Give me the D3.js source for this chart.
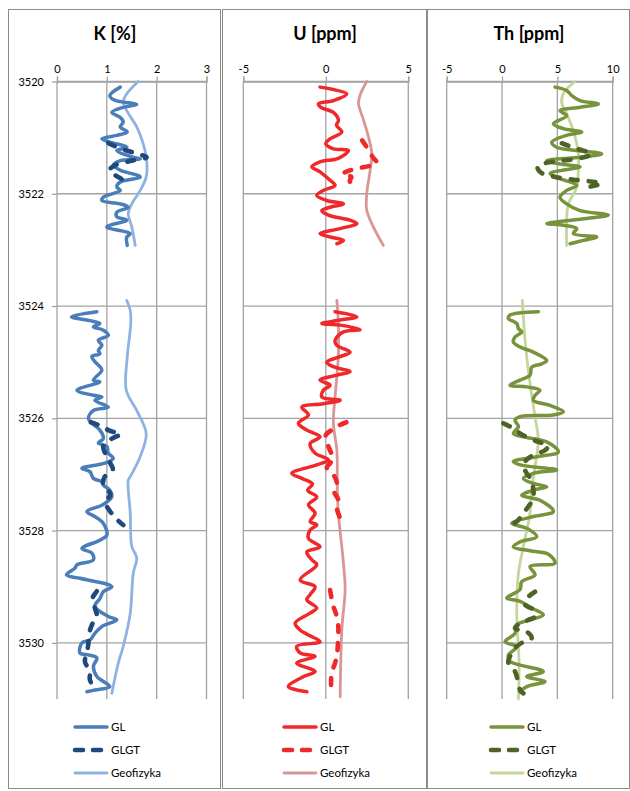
<!DOCTYPE html>
<html>
<head>
<meta charset="utf-8">
<script src="https://cdn.jsdelivr.net/npm/d3@7"></script>
<style>
  html, body { margin: 0; padding: 0; background: #fff; }
  svg { display: block; font-family: Lato, "Open Sans", "Liberation Sans", sans-serif; }
</style>
</head>
<body>
<svg id="chart" width="630" height="791"></svg>
<script>
// Depth axis (m) shared by all three logs
const depthDomain = [3520, 3531];
const depthTicks = [3520, 3522, 3524, 3526, 3528, 3530];

// Top value axes
const kTicks = [0, 1, 2, 3];
const uTicks = [-5, 0, 5];
const thTicks = [-5, 0, 5, 10];

const seriesNames = ["GL", "GLGT", "Geofizyka"];

// Each series: list of continuous segments of [depth, value]

// ---- K [%] ----
const kGL = [
  [[3520.10,1.27],[3520.25,1.06],[3520.33,1.15],[3520.41,1.60],[3520.46,1.33],[3520.55,1.10],[3520.64,1.27],
   [3520.72,1.33],[3520.81,1.27],[3520.90,1.41],[3520.96,1.20],[3521.02,0.90],[3521.08,1.06],[3521.17,1.40],
   [3521.23,1.20],[3521.35,1.53],[3521.38,1.67],[3521.41,1.27],[3521.49,1.13],[3521.58,1.27],[3521.70,1.67],
   [3521.79,1.27],[3521.88,1.20],[3521.94,1.27],[3522.06,0.93],[3522.12,0.90],[3522.18,1.27],[3522.24,1.43],
   [3522.33,1.20],[3522.41,1.20],[3522.47,1.40],[3522.59,1.00],[3522.71,1.47],[3522.77,1.40],[3522.92,1.41]],
  [[3524.10,0.80],[3524.19,0.29],[3524.26,0.66],[3524.31,0.86],[3524.37,0.73],[3524.43,0.93],[3524.52,1.03],
   [3524.61,0.83],[3524.70,0.90],[3524.79,0.83],[3524.85,0.86],[3524.90,0.70],[3524.99,0.76],[3525.14,0.90],
   [3525.32,0.73],[3525.35,0.86],[3525.50,0.40],[3525.59,0.73],[3525.62,0.90],[3525.68,0.76],[3525.80,1.03],
   [3525.86,0.73],[3526.00,0.63],[3526.09,0.70],[3526.21,0.86],[3526.36,0.93],[3526.44,0.83],[3526.50,1.00],
   [3526.62,1.03],[3526.71,1.13],[3526.80,0.96],[3526.89,0.50],[3526.95,0.66],[3527.07,0.73],[3527.13,0.90],
   [3527.19,0.93],[3527.28,1.06],[3527.40,1.10],[3527.49,1.00],[3527.55,0.90],[3527.66,0.60],[3527.75,0.76],
   [3527.81,0.86],[3527.87,0.93],[3528.08,1.00],[3528.17,0.86],[3528.32,0.50],[3528.40,0.70],[3528.52,0.73],
   [3528.61,0.40],[3528.67,0.36],[3528.79,0.19],[3528.85,0.46],[3529.00,1.10],[3529.09,0.93],[3529.21,0.86],
   [3529.35,0.76],[3529.53,1.03],[3529.59,1.20],[3529.71,0.90],[3529.83,0.76],[3529.95,0.66],[3530.00,0.50],
   [3530.18,0.46],[3530.21,0.60],[3530.27,0.80],[3530.42,0.73],[3530.60,0.80],[3530.78,1.06],[3530.84,0.76],
   [3530.87,0.60]]
];
const kGLGT = [
  [[3521.10,1.03],[3521.20,1.30],[3521.29,1.62],[3521.35,1.80],[3521.42,1.45],[3521.50,1.15],[3521.58,1.05],
   [3521.66,1.15],[3521.74,1.30],[3521.84,1.47]],
  [[3526.07,0.68],[3526.15,0.92],[3526.22,1.05],[3526.28,1.28],[3526.36,1.10],[3526.50,0.93],[3526.65,0.98],
   [3526.80,1.07],[3526.92,1.12],[3527.05,0.95],[3527.20,0.93],[3527.35,1.07],[3527.50,0.97],[3527.65,1.06],
   [3527.80,1.20],[3527.90,1.33]],
  [[3529.08,0.80],[3529.23,0.70],[3529.38,0.76],[3529.53,0.80],[3529.68,0.70],[3529.89,0.63],[3530.00,0.63],
   [3530.18,0.60],[3530.33,0.56],[3530.51,0.66],[3530.66,0.66],[3530.82,0.77]]
];
const kGeo = [
  [[3520.00,1.63],[3520.22,1.40],[3520.36,1.33],[3520.52,1.40],[3520.81,1.60],[3521.11,1.73],[3521.41,1.80],
   [3521.70,1.79],[3521.94,1.67],[3522.18,1.50],[3522.35,1.43],[3522.59,1.50],[3522.92,1.57]],
  [[3523.90,1.40],[3524.08,1.47],[3524.31,1.48],[3524.90,1.41],[3525.50,1.39],[3525.86,1.60],[3526.27,1.79],
   [3526.68,1.67],[3527.04,1.47],[3527.10,1.43],[3527.69,1.47],[3528.28,1.50],[3528.49,1.60],[3528.76,1.53],
   [3529.47,1.47],[3530.06,1.33],[3530.36,1.23],[3530.90,1.10]]
];

// ---- U [ppm] ----
const uGL = [
  [[3520.10,-0.35],[3520.22,1.27],[3520.34,0.46],[3520.40,-0.45],[3520.46,-0.30],[3520.55,0.46],[3520.69,0.77],
   [3520.78,0.65],[3520.90,0.97],[3521.02,0.26],[3521.11,0.00],[3521.20,0.46],[3521.23,1.37],[3521.37,0.76],
   [3521.43,-0.35],[3521.52,-0.85],[3521.61,-0.35],[3521.76,0.26],[3521.85,0.56],[3521.94,-0.15],[3522.03,-0.55],
   [3522.12,0.06],[3522.18,1.07],[3522.24,0.26],[3522.30,-0.24],[3522.38,0.16],[3522.47,1.47],[3522.53,1.88],
   [3522.62,0.87],[3522.71,-0.35],[3522.77,0.26],[3522.83,1.07],[3522.89,0.67]],
  [[3524.10,0.56],[3524.19,1.88],[3524.25,0.87],[3524.31,-0.24],[3524.34,0.87],[3524.42,2.08],[3524.46,1.07],
   [3524.61,0.56],[3524.70,0.67],[3524.82,1.47],[3524.91,0.76],[3525.00,0.06],[3525.08,0.46],[3525.17,1.47],
   [3525.23,0.67],[3525.32,-0.35],[3525.41,0.26],[3525.50,-0.15],[3525.62,-0.24],[3525.68,0.87],[3525.74,-0.15],
   [3525.80,-1.45],[3525.94,-1.05],[3526.09,-1.66],[3526.21,-1.15],[3526.33,-0.35],[3526.45,-0.95],[3526.62,-0.65],
   [3526.74,0.16],[3526.83,-0.55],[3526.98,-2.06],[3527.07,-1.45],[3527.17,-0.80],[3527.28,-1.10],[3527.40,-0.55],
   [3527.54,-1.05],[3527.69,-0.65],[3527.84,-0.95],[3527.90,-0.55],[3527.99,-0.95],[3528.14,-1.05],[3528.29,-0.35],
   [3528.38,-1.15],[3528.52,-0.85],[3528.61,-0.55],[3528.88,-1.56],[3529.00,-0.65],[3529.14,-0.95],[3529.23,-1.15],
   [3529.38,-0.55],[3529.47,-0.95],[3529.65,-1.86],[3529.77,-1.56],[3529.86,-1.05],[3529.98,-0.35],[3530.06,-1.76],
   [3530.18,-1.56],[3530.24,-0.65],[3530.36,-1.76],[3530.51,-0.65],[3530.60,-1.35],[3530.78,-2.27],[3530.87,-1.15]]
];
const uGLGT = [
  [[3521.05,2.20],[3521.20,2.55],[3521.35,2.85],[3521.45,3.10],[3521.50,2.70],[3521.55,1.90],[3521.60,1.30],
   [3521.65,1.00],[3521.70,1.55],[3521.77,1.45],[3521.85,1.65]],
  [[3526.07,1.25],[3526.12,0.85],[3526.20,0.40],[3526.30,0.00],[3526.45,0.10],[3526.60,0.30],[3526.70,0.45],
   [3526.80,0.26],[3526.88,0.06],[3527.00,0.45],[3527.15,0.67],[3527.30,0.50],[3527.45,0.75],[3527.60,0.67],
   [3527.78,0.87]],
  [[3529.06,0.26],[3529.35,0.46],[3529.53,0.67],[3529.71,0.76],[3529.82,0.76],[3530.24,0.67],[3530.36,0.56],
   [3530.53,0.36],[3530.71,0.32],[3530.89,0.32]]
];
const uGeo = [
  [[3520.00,2.48],[3520.24,2.08],[3520.39,1.98],[3520.68,2.28],[3520.98,2.58],[3521.29,2.79],[3521.58,2.69],
   [3522.00,2.48],[3522.29,2.48],[3522.59,2.88],[3522.92,3.49]],
  [[3523.90,0.67],[3524.31,0.76],[3524.90,0.76],[3525.62,0.56],[3526.09,0.46],[3526.57,0.67],[3527.28,0.70],
   [3527.69,0.76],[3528.58,1.07],[3529.06,1.17],[3529.77,0.97],[3530.96,0.87]]
];

// ---- Th [ppm] ----
const thGL = [
  [[3520.10,4.79],[3520.16,5.84],[3520.25,6.30],[3520.34,7.05],[3520.40,8.70],[3520.46,7.05],[3520.52,5.24],
   [3520.61,5.84],[3520.75,4.64],[3520.84,5.54],[3520.90,7.20],[3520.96,5.84],[3521.08,4.49],[3521.17,4.94],
   [3521.23,6.75],[3521.29,9.00],[3521.35,7.05],[3521.41,4.04],[3521.47,5.24],[3521.52,7.05],[3521.64,4.34],
   [3521.73,5.24],[3521.85,6.75],[3521.94,5.84],[3522.06,5.24],[3522.18,5.84],[3522.30,7.05],[3522.38,9.60],
   [3522.44,7.65],[3522.53,4.04],[3522.56,5.54],[3522.62,6.75],[3522.71,6.45],[3522.77,8.55],[3522.83,7.35],
   [3522.89,6.15]],
  [[3524.10,3.28],[3524.16,0.72],[3524.22,0.57],[3524.31,1.33],[3524.40,1.48],[3524.46,1.78],[3524.55,1.17],
   [3524.64,1.02],[3524.73,1.63],[3524.82,2.83],[3524.97,4.04],[3525.03,3.58],[3525.09,2.68],[3525.23,2.53],
   [3525.32,1.63],[3525.41,0.72],[3525.44,2.23],[3525.50,3.43],[3525.59,2.98],[3525.68,2.83],[3525.77,4.34],
   [3525.88,5.54],[3525.94,4.64],[3525.97,1.63],[3526.03,1.17],[3526.15,1.48],[3526.27,1.02],[3526.33,1.93],
   [3526.42,4.04],[3526.60,5.09],[3526.68,3.28],[3526.77,1.02],[3526.83,1.63],[3526.92,4.94],[3526.98,2.83],
   [3527.07,1.93],[3527.16,2.83],[3527.22,4.04],[3527.28,2.83],[3527.37,1.78],[3527.46,3.43],[3527.66,4.64],
   [3527.75,2.83],[3527.87,0.88],[3527.96,2.23],[3528.11,3.13],[3528.20,1.63],[3528.29,1.02],[3528.36,2.53],
   [3528.42,4.19],[3528.58,4.79],[3528.64,2.53],[3528.79,2.98],[3528.91,1.78],[3529.05,1.63],[3529.20,0.42],
   [3529.26,1.63],[3529.38,2.68],[3529.50,3.73],[3529.59,2.53],[3529.68,1.33],[3529.83,1.17],[3529.98,0.27],
   [3530.07,1.33],[3530.22,0.57],[3530.33,0.72],[3530.51,3.73],[3530.60,2.23],[3530.69,3.88],[3530.78,2.23],
   [3530.87,1.63]]
];
const thGLGT = [
  [[3521.10,5.40],[3521.20,6.80],[3521.29,8.10],[3521.36,7.20],[3521.41,5.50],[3521.45,4.00],[3521.52,3.20],
   [3521.62,3.50],[3521.70,4.80],[3521.75,6.50],[3521.78,8.00],[3521.82,9.00],[3521.87,8.00]],
  [[3526.09,0.12],[3526.18,1.02],[3526.27,1.63],[3526.36,2.53],[3526.42,3.28],[3526.48,4.19],[3526.57,3.88],
   [3526.62,3.28],[3526.71,2.38],[3526.83,1.93],[3526.98,2.23],[3527.10,2.68],[3527.28,2.83],[3527.43,2.83],
   [3527.57,2.38],[3527.69,1.93],[3527.84,1.33],[3527.90,0.88]],
  [[3529.09,2.98],[3529.21,2.23],[3529.32,2.08],[3529.41,2.83],[3529.53,2.98],[3529.59,2.38],[3529.65,1.63],
   [3529.74,1.17],[3529.80,2.23],[3529.92,2.68],[3530.00,1.78],[3530.09,1.17],[3530.24,0.72],[3530.36,0.57],
   [3530.51,1.17],[3530.72,1.48],[3530.84,1.63],[3530.90,1.93]]
];
const thGeo = [
  [[3520.00,6.60],[3520.21,5.54],[3520.39,5.40],[3520.57,5.84],[3520.98,6.60],[3521.29,6.90],[3521.58,6.90],
   [3521.88,6.75],[3522.18,6.00],[3522.47,5.84],[3522.92,5.84]],
  [[3523.90,1.84],[3524.61,2.08],[3525.38,2.53],[3525.97,2.98],[3526.39,3.28],[3526.86,2.98],[3527.28,2.68],
   [3527.69,2.53],[3528.28,1.93],[3528.76,1.48],[3529.47,1.33],[3530.36,1.54],[3531.00,1.48]]
];

// Layout of the three log tracks
const panels = [
  { title: "K [%]", box: [8, 9, 220, 788], xRange: [57, 206.5], domain: [0, 3], ticks: kTicks,
    depthLabels: true, titleX: 115, legendX: 73,
    series: [kGL, kGLGT, kGeo], colors: ["#4a7ebb", "#1f497d", "#8db3e2"] },
  { title: "U [ppm]", box: [222, 9, 426, 788], xRange: [243.3, 408.3], domain: [-5, 5], ticks: uTicks,
    depthLabels: false, titleX: 325, legendX: 282,
    series: [uGL, uGLGT, uGeo], colors: ["#f0282a", "#f0282a", "#d99694"] },
  { title: "Th [ppm]", box: [427, 9, 629, 788], xRange: [446.7, 612.7], domain: [-5, 10], ticks: thTicks,
    depthLabels: false, titleX: 529, legendX: 489,
    series: [thGL, thGLGT, thGeo], colors: ["#77933c", "#4f6228", "#c3d69b"] }
];

const svg = d3.select("#chart");
const y = d3.scaleLinear().domain(depthDomain).range([81.5, 699]);
const lineStyles = [
  { width: 3.5, dash: null },
  { width: 4.6, dash: "7,11" },
  { width: 2.8, dash: null }
];
const gridColor = "#a3a3a3";
const plainNumber = d => String(d);

panels.forEach(p => {
  const g = svg.append("g");
  const x = d3.scaleLinear().domain(p.domain).range(p.xRange);

  // frame
  g.append("rect")
    .attr("x", p.box[0] + 0.5).attr("y", p.box[1] + 0.5)
    .attr("width", p.box[2] - p.box[0]).attr("height", p.box[3] - p.box[1])
    .attr("fill", "none").attr("stroke", "#8c8c8c").attr("stroke-width", 1);

  // title
  g.append("text").attr("x", p.titleX).attr("y", 40)
    .attr("text-anchor", "middle").attr("font-size", 18).attr("font-weight", "bold")
    .attr("fill", "#000").text(p.title);

  // top axis
  const topAxis = d3.axisTop(x).tickValues(p.ticks).tickSize(5).tickPadding(4).tickFormat(plainNumber);
  const ta = g.append("g").attr("transform", `translate(0,${y(depthDomain[0])})`).call(topAxis);
  ta.select(".domain").attr("stroke", gridColor).attr("stroke-width", 1.3);
  ta.selectAll(".tick line").attr("stroke", gridColor).attr("stroke-width", 1.3);
  ta.selectAll(".tick text").attr("font-size", 11).attr("fill", "#000")
    .attr("font-family", "Lato, 'Open Sans', sans-serif");

  // vertical grid lines
  g.append("g").selectAll("line").data(p.ticks).join("line")
    .attr("x1", d => x(d)).attr("x2", d => x(d))
    .attr("y1", y(depthDomain[0])).attr("y2", y(depthDomain[1]))
    .attr("stroke", gridColor).attr("stroke-width", 1.3);

  // left depth axis
  const leftAxis = d3.axisLeft(y).tickValues(depthTicks).tickSize(p.depthLabels ? 5 : 0).tickPadding(8)
    .tickFormat(p.depthLabels ? plainNumber : () => "");
  const la = g.append("g").attr("transform", `translate(${p.xRange[0]},0)`).call(leftAxis);
  la.select(".domain").remove();
  la.selectAll(".tick line").attr("stroke", gridColor).attr("stroke-width", 1.3);
  la.selectAll(".tick text").attr("font-size", 11).attr("fill", "#000")
    .attr("font-family", "Lato, 'Open Sans', sans-serif");

  // horizontal grid lines
  g.append("g").selectAll("line").data(depthTicks).join("line")
    .attr("x1", p.xRange[0]).attr("x2", p.xRange[1])
    .attr("y1", d => y(d)).attr("y2", d => y(d))
    .attr("stroke", gridColor).attr("stroke-width", 1.3);

  // log curves: Geofizyka first, then GL, then GLGT on top
  const line = d3.line().x(d => x(d[1])).y(d => y(d[0])).curve(d3.curveCatmullRom.alpha(0.5));
  [2, 0, 1].forEach(i => {
    const st = lineStyles[i];
    g.append("g").selectAll("path").data(p.series[i]).join("path")
      .attr("d", line)
      .attr("fill", "none")
      .attr("stroke", p.colors[i])
      .attr("stroke-width", st.width)
      .attr("stroke-linecap", "round")
      .attr("stroke-linejoin", "round")
      .attr("stroke-dasharray", st.dash);
  });

  // legend
  const legY = [727, 750, 773];
  seriesNames.forEach((name, i) => {
    const st = lineStyles[i];
    g.append("line")
      .attr("x1", p.legendX + 2).attr("x2", p.legendX + 34)
      .attr("y1", legY[i]).attr("y2", legY[i])
      .attr("stroke", p.colors[i]).attr("stroke-width", st.width)
      .attr("stroke-linecap", "round")
      .attr("stroke-dasharray", st.dash ? "8,10" : null);
    g.append("text").attr("x", p.legendX + 38).attr("y", legY[i])
      .attr("dy", "0.35em").attr("font-size", 11.5).attr("fill", "#000").text(name);
  });
});
</script>
</body>
</html>
